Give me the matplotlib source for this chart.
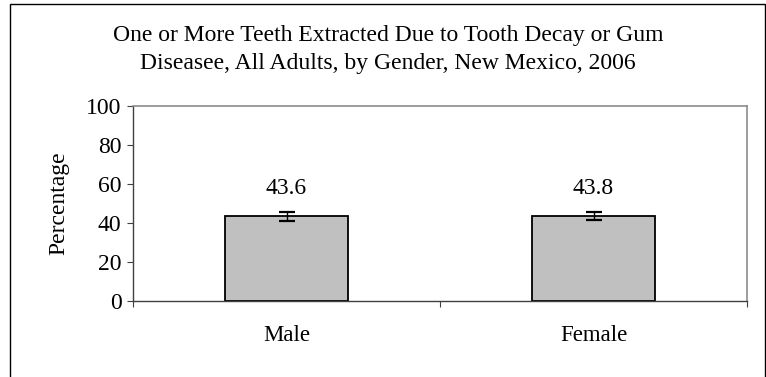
import matplotlib
matplotlib.use("Agg")
import matplotlib.pyplot as plt
from matplotlib.patches import Rectangle

categories = ["Male", "Female"]
values = [43.6, 43.8]
ci_lower = [40.8, 41.6]
ci_upper = [45.8, 45.7]
yticks = [0, 20, 40, 60, 80, 100]
title = "One or More Teeth Extracted Due to Tooth Decay or Gum\nDiseasee, All Adults, by Gender, New Mexico, 2006"

plt.rcParams['font.family'] = ['Liberation Serif', 'DejaVu Serif']

fig = plt.figure(figsize=(7.66, 3.77), dpi=100)
fig.patch.set_facecolor("white")

# outer border
fig.patches.append(Rectangle((10/766, -0.1), (765-10)/766, 1.1 - 4/377,
                             transform=fig.transFigure, fill=False,
                             edgecolor="black", linewidth=1.0))

ax = fig.add_axes([133/766, 1-301/377, (747-133)/766, (301-106)/377])

x = list(range(len(categories)))
err_lo = [v - l for v, l in zip(values, ci_lower)]
err_hi = [u - v for v, u in zip(values, ci_upper)]
ax.bar(x, values, width=0.4, color="#C0C0C0", edgecolor="black", linewidth=1.3, zorder=2)
ax.errorbar(x, values, yerr=[err_lo, err_hi], fmt="none", ecolor="black",
            elinewidth=1.0, capsize=5.5, capthick=1.6, zorder=3)

for xi, v, u in zip(x, values, ci_upper):
    ax.annotate(f"{v:.1f}", (xi, u), xytext=(0, 17), textcoords="offset points",
                ha="center", va="center", fontsize=17)

ax.set_xlim(-0.5, len(categories) - 0.5)
ax.set_ylim(0, 100)
ax.set_yticks(yticks)
ax.set_yticklabels([str(t) for t in yticks], fontsize=17)
ax.tick_params(axis="y", direction="out", length=4.3, width=0.8, color="#404040", pad=4)

ax.set_xticks([i - 0.5 for i in range(len(categories) + 1)])
ax.set_xticklabels([""] * (len(categories) + 1))
ax.tick_params(axis="x", which="major", direction="out", length=4, width=0.8, color="#404040")
ax.set_xticks(x, minor=True)
ax.set_xticklabels(categories, minor=True, fontsize=16.5)
ax.tick_params(axis="x", which="minor", length=0, pad=17.5)

ax.set_ylabel("Percentage", fontsize=17, labelpad=12)

for side in ["left", "bottom"]:
    ax.spines[side].set_color("#404040")
    ax.spines[side].set_linewidth(1.0)
for side in ["top", "right"]:
    ax.spines[side].set_color("#8c8c8c")
    ax.spines[side].set_linewidth(1.2)

fig.text(388/766, 1 - 49.5/377, title, ha="center", va="center", fontsize=17,
         linespacing=1.4)

fig.savefig("out.png", dpi=100)
